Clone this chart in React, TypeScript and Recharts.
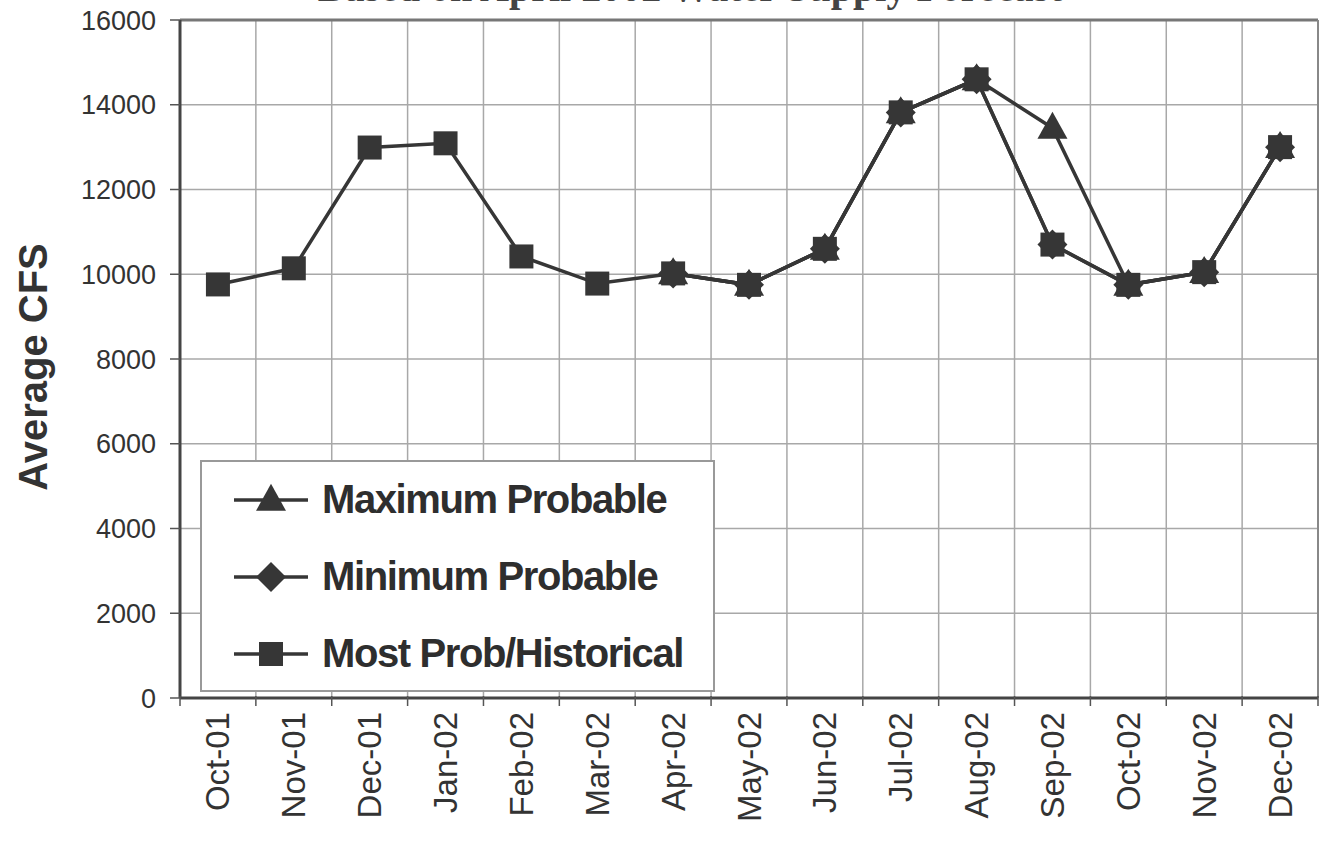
import React from 'react';
import { LineChart, Line, XAxis, YAxis, CartesianGrid, ReferenceLine, Legend } from 'recharts';

const categories = ['Oct-01', 'Nov-01', 'Dec-01', 'Jan-02', 'Feb-02', 'Mar-02', 'Apr-02', 'May-02', 'Jun-02', 'Jul-02', 'Aug-02', 'Sep-02', 'Oct-02', 'Nov-02', 'Dec-02'];
const maximumProbable = [null, null, null, null, null, null, 10020, 9750, 10600, 13820, 14600, 13450, 9750, 10050, 13000];
const minimumProbable = [null, null, null, null, null, null, 10020, 9750, 10600, 13820, 14600, 10700, 9750, 10050, 13000];
const mostProbHistorical = [9760, 10140, 12990, 13090, 10420, 9780, 10020, 9750, 10600, 13820, 14600, 10700, 9750, 10050, 13000];
const yTicks = [0, 2000, 4000, 6000, 8000, 10000, 12000, 14000, 16000];
const seriesNames = ['Maximum Probable', 'Minimum Probable', 'Most Prob/Historical'];
const titleText = 'Based on April 2002 Water Supply Forecast';

const data = categories.map((name, i) => ({
  idx: i,
  name,
  max: maximumProbable[i],
  min: minimumProbable[i],
  most: mostProbHistorical[i],
}));

const xTicks: number[] = [];
for (let i = 0; i <= categories.length * 2; i++) xTicks.push(-0.5 + i * 0.5);
const boundaries: number[] = [];
for (let i = 0; i < categories.length - 1; i++) boundaries.push(i + 0.5);

const INK = '#363636';
const GRID = '#a8a8a8';
const FONT = '"Liberation Sans", Arial, sans-serif';

const Marker = ({ kind, cx, cy }: { kind: string; cx: number; cy: number }) => {
  if (cx == null || cy == null || isNaN(cx) || isNaN(cy)) return null;
  if (kind === 'triangle') {
    const w = 15, h = 27;
    return <polygon points={`${cx},${cy - h * 0.6} ${cx + w},${cy + h * 0.4} ${cx - w},${cy + h * 0.4}`} fill={INK} />;
  }
  if (kind === 'diamond') {
    const r = 15;
    return <polygon points={`${cx},${cy - r} ${cx + r},${cy} ${cx},${cy + r} ${cx - r},${cy}`} fill={INK} />;
  }
  const s = 12;
  return <rect x={cx - s} y={cy - s} width={s * 2} height={s * 2} fill={INK} />;
};

const dotFor = (kind: string) => (props: any) => <Marker key={`${kind}-${props.index}`} kind={kind} cx={props.cx} cy={props.cy} />;

const XTick = (props: any) => {
  const { x, y, payload } = props;
  const v = payload.value;
  if (Number.isInteger(v)) {
    return (
      <text x={x} y={y + 6} transform={`rotate(-90 ${x} ${y + 6})`} textAnchor="end" dominantBaseline="central"
        fontFamily={FONT} fontSize={33} fill="#333">
        {categories[v]}
      </text>
    );
  }
  return <line x1={x} x2={x} y1={y - 10} y2={y} stroke="#555" strokeWidth={1.5} />;
};

const legendKinds = ['triangle', 'diamond', 'square'];

const LegendContent = () => (
  <div style={{ marginTop: -1 }}>
    {seriesNames.map((n, i) => (
      <div key={n} style={{ display: 'flex', alignItems: 'center', height: 77, paddingLeft: 32 }}>
        <svg width={74} height={40} style={{ flex: 'none' }}>
          <line x1={0} x2={74} y1={20} y2={20} stroke={INK} strokeWidth={3.5} />
          <Marker kind={legendKinds[i]} cx={37} cy={20} />
        </svg>
        <span style={{ marginLeft: 14, fontFamily: FONT, fontWeight: 'bold', fontSize: 40, letterSpacing: -1.4, color: '#2e2e2e', whiteSpace: 'nowrap' }}>{n}</span>
      </div>
    ))}
  </div>
);

export default function App() {
  return (
    <div style={{ position: 'absolute', left: 0, top: 0, width: 1319, height: 848, background: '#fff' }}>
      <svg width={1319} height={12} style={{ position: 'absolute', left: 0, top: 0, overflow: 'hidden' }}>
        <text x={690} y={1} textAnchor="middle" fontFamily='"Liberation Serif", serif' fontWeight="bold" fontSize={40} fill="#444">{titleText}</text>
      </svg>
      <LineChart width={1319} height={848} data={data} margin={{ top: 20, right: 1, left: 0, bottom: 0 }}>
        <CartesianGrid vertical={false} stroke={GRID} strokeWidth={1.5} />
        {boundaries.map((b) => (
          <ReferenceLine key={b} x={b} stroke={GRID} strokeWidth={1.5} />
        ))}
        <ReferenceLine y={16000} stroke="#777" strokeWidth={3} />
        <ReferenceLine x={categories.length - 0.5} stroke="#888" strokeWidth={2} />
        <XAxis
          type="number"
          dataKey="idx"
          domain={[-0.5, categories.length - 0.5]}
          ticks={xTicks}
          interval={0}
          tickLine={false}
          tickSize={8}
          tickMargin={0}
          tick={<XTick />}
          axisLine={{ stroke: '#444', strokeWidth: 3 }}
          height={150}
          allowDataOverflow
        />
        <YAxis
          domain={[0, 16000]}
          ticks={yTicks}
          interval={0}
          width={180}
          tickSize={10}
          tickMargin={14}
          tickLine={{ stroke: '#555', strokeWidth: 1.5 }}
          axisLine={{ stroke: '#444', strokeWidth: 3 }}
          tick={{ fontFamily: FONT, fontSize: 27, fill: '#333' }}
          label={{
            content: (p: any) => {
              const vb = p.viewBox || { x: 0, y: 20, width: 180, height: 678 };
              const cx = vb.x + 33;
              const cy = vb.y + vb.height / 2 + 8;
              return (
                <text x={cx} y={cy} transform={`rotate(-90 ${cx} ${cy})`} textAnchor="middle" dominantBaseline="central"
                  fontFamily={FONT} fontWeight="bold" fontSize={40} fill="#333">Average CFS</text>
              );
            },
          }}
        />
        <Legend
          layout="horizontal"
          verticalAlign="middle"
          align="center"
          content={<LegendContent />}
          wrapperStyle={{ position: 'absolute', left: 200, top: 460, width: 515, height: 232, border: '2px solid #999', background: '#fff', boxSizing: 'border-box' }}
        />
        <Line dataKey="max" name={seriesNames[0]} stroke={INK} strokeWidth={3.5} dot={dotFor('triangle')} activeDot={false} isAnimationActive={false} />
        <Line dataKey="min" name={seriesNames[1]} stroke={INK} strokeWidth={3.5} dot={dotFor('diamond')} activeDot={false} isAnimationActive={false} />
        <Line dataKey="most" name={seriesNames[2]} stroke={INK} strokeWidth={3.5} dot={dotFor('square')} activeDot={false} isAnimationActive={false} />
      </LineChart>
    </div>
  );
}
